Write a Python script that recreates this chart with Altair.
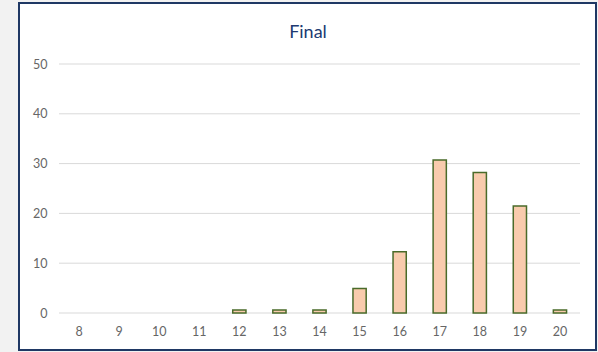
import altair as alt
import pandas as pd

categories = ["8", "9", "10", "11", "12", "13", "14", "15", "16", "17", "18", "19", "20"]
values = [0, 0, 0, 0, 0.6, 0.6, 0.6, 4.9, 12.3, 30.7, 28.2, 21.5, 0.6]
grid_values = [0, 10, 20, 30, 40, 50]
title_text = "Final"

df = pd.DataFrame({"cat": categories, "v": values})
grid_df = pd.DataFrame({"g": grid_values})

FONT = "Lato"

frame = alt.Chart(pd.DataFrame({"a": [0]})).mark_rect(
    fill="white", stroke="#1f3864", strokeWidth=2
).encode(
    x=alt.value(-40), x2=alt.value(537), y=alt.value(-61), y2=alt.value(286)
)

title = alt.Chart(pd.DataFrame({"t": [title_text]})).mark_text(
    font=FONT, fontSize=18, color="#203a72", align="center", baseline="alphabetic"
).encode(text="t:N", x=alt.value(249), y=alt.value(-26))

grid = alt.Chart(grid_df).mark_rule(color="#d9d9d9", strokeWidth=1).encode(
    y=alt.Y("g:Q", scale=alt.Scale(domain=[0, 50])),
    x=alt.value(0), x2=alt.value(521),
)

bars = alt.Chart(df).transform_filter("datum.v > 0").mark_bar(
    fill="#f8cbad", stroke="#4a6b2a", strokeWidth=1.5
).encode(
    x=alt.X("cat:N", sort=categories,
            scale=alt.Scale(domain=categories, paddingInner=0.67, paddingOuter=0.335),
            axis=alt.Axis(title=None, labelAngle=0, domain=False, ticks=False, grid=False,
                          labelColor="#666666", labelFontSize=12.5, labelFont=FONT,
                          labelPadding=12, zindex=1)),
    y=alt.Y("v:Q", scale=alt.Scale(domain=[0, 50]),
            axis=alt.Axis(title=None, values=grid_values, domain=False, ticks=False, grid=False,
                          labelColor="#666666", labelFontSize=12.5, labelFont=FONT,
                          labelPadding=12, zindex=1)),
)

chart = alt.layer(frame, title, grid, bars).properties(
    width=521, height=249,
    autosize=alt.AutoSizeParams(type="none"),
    padding={"left": 59, "top": 64, "right": 18, "bottom": 39},
    background="#f2f2f2",
).configure_view(stroke=None)

chart.save("out.html", embed_options={"renderer": "svg", "actions": False})
